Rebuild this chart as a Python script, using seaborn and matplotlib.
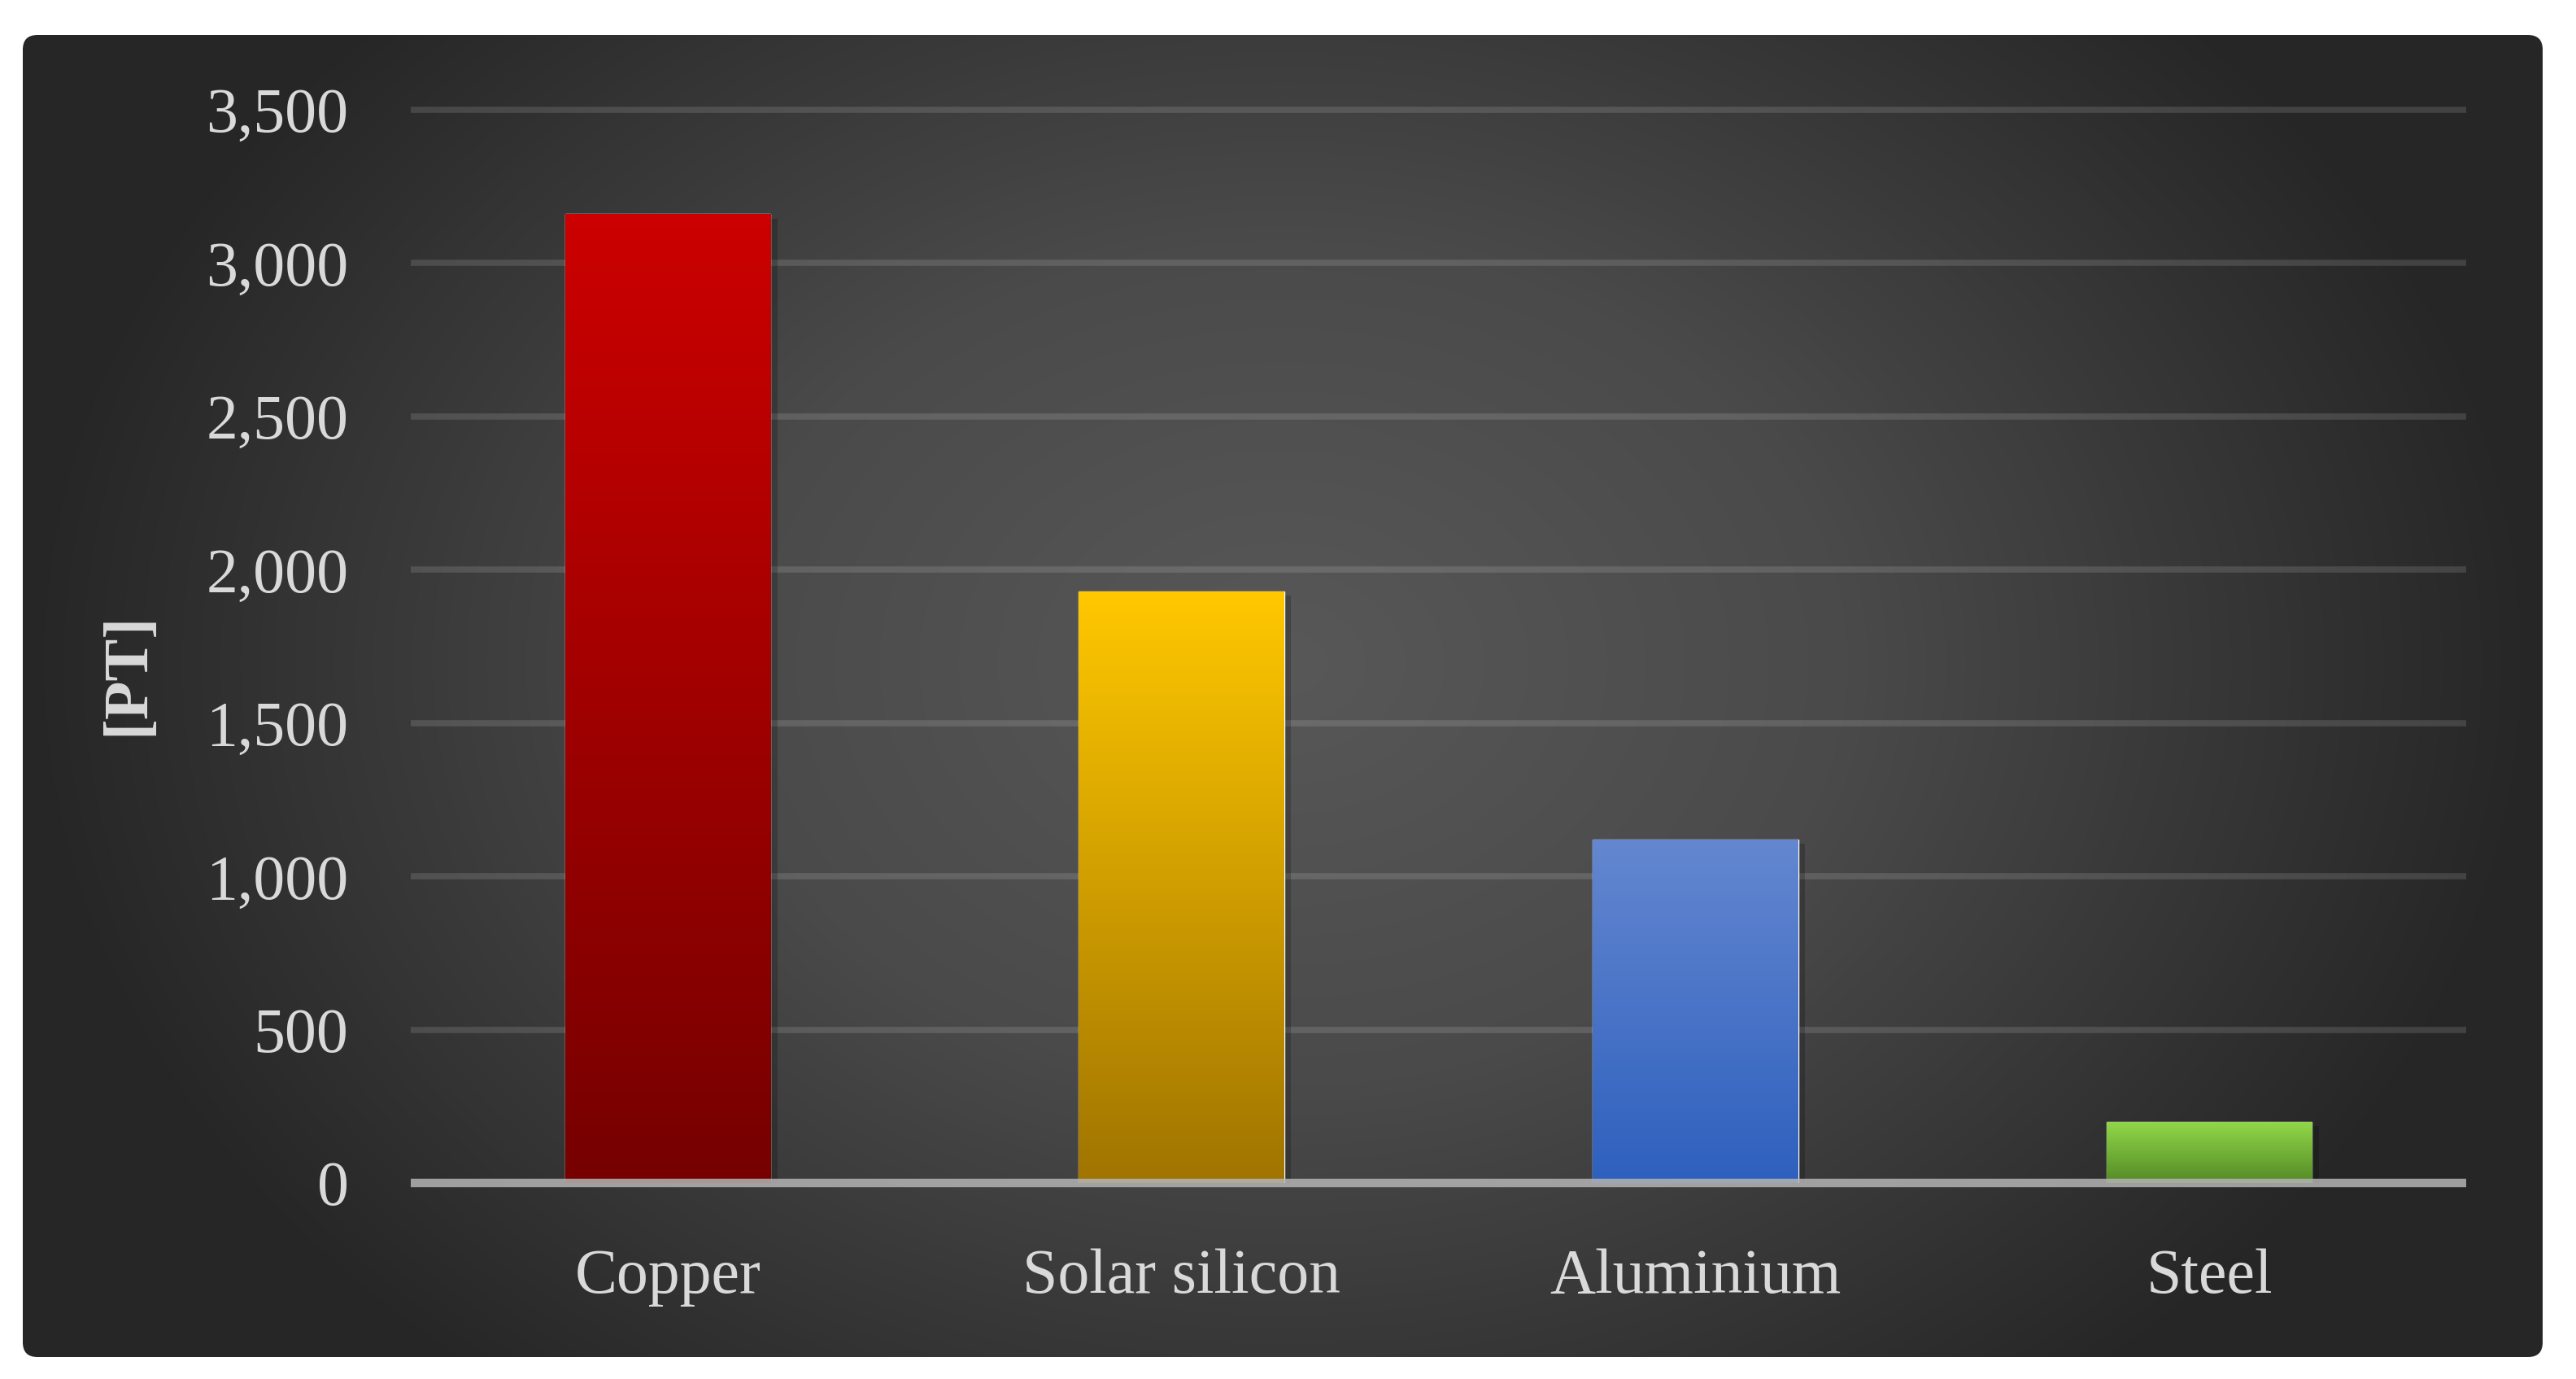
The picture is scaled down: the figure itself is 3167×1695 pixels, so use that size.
import numpy as np
import pandas as pd
import seaborn as sns
import matplotlib.pyplot as plt
from matplotlib.patches import FancyBboxPatch
from matplotlib.colors import LinearSegmentedColormap
from matplotlib.ticker import FuncFormatter
import matplotlib.patheffects as pe

# values
materials = ["Copper", "Solar silicon", "Aluminium", "Steel"]
amounts = [3160, 1930, 1120, 200]
top_colors = ["#cc0000", "#ffc800", "#6487d0", "#92d84a"]
bottom_colors = ["#760000", "#a07400", "#2e60be", "#548a26"]
y_ticks = [0, 500, 1000, 1500, 2000, 2500, 3000, 3500]
y_label = "[PT]"

sns.set_style("white")
plt.rcParams['font.family'] = ['Liberation Serif', 'DejaVu Serif']
text_col = "#d9d9d9"

W, H = 3167, 1695
fig = plt.figure(figsize=(W / 100, H / 100), dpi=100)
fig.patch.set_facecolor("white")

# dark panel with radial gradient
bg = fig.add_axes([0, 0, 1, 1], zorder=-10)
bg.set_xlim(0, W)
bg.set_ylim(H, 0)
bg.axis("off")
px0, px1, py0, py1 = 28, 3126, 43, 1668
xx, yy = np.meshgrid(np.linspace(px0, px1, 600), np.linspace(py0, py1, 330))
cx, cy = (px0 + px1) / 2, (py0 + py1) / 2 - 40
r = np.sqrt(((xx - cx) / ((px1 - px0) / 2)) ** 2 + ((yy - cy) / ((py1 - py0) / 1.4)) ** 2)
r = np.clip(r, 0, 1)
bg_cmap = LinearSegmentedColormap.from_list(
    "bg", [(0, "#585858"), (0.45, "#4a4a4a"), (0.8, "#333333"), (1, "#262626")])
im = bg.imshow(r, cmap=bg_cmap, vmin=0, vmax=1, extent=[px0, px1, py1, py0],
               aspect="auto", interpolation="bilinear")
panel = FancyBboxPatch((px0, py0), px1 - px0, py1 - py0,
                       boxstyle="round,pad=0,rounding_size=18",
                       transform=bg.transData, facecolor="none", edgecolor="none")
bg.add_patch(panel)
im.set_clip_path(panel)

# main chart
ax = fig.add_axes([505 / W, 1 - 1454 / H, (3032 - 505) / W, (1454 - 135) / H])
ax.patch.set_alpha(0)
df = pd.DataFrame({"material": materials, "amount": amounts})
sns.barplot(data=df, x="material", y="amount", hue="material",
            palette=top_colors, width=0.4, legend=False, ax=ax, zorder=3)

# vertical gradient on each bar, plus a soft shadow
for bar, ctop, cbot in zip(ax.patches, top_colors, bottom_colors):
    bar.set_path_effects([pe.SimplePatchShadow(offset=(6, -4), shadow_rgbFace="black", alpha=0.2),
                          pe.Normal()])
    x0, w, h = bar.get_x(), bar.get_width(), bar.get_height()
    cm = LinearSegmentedColormap.from_list("g", [cbot, ctop])
    grad = np.linspace(1, 0, 256).reshape(-1, 1)
    gi = ax.imshow(grad, cmap=cm, vmin=0, vmax=1, extent=[x0, x0 + w, 0, h],
                   aspect="auto", zorder=4, interpolation="bilinear")
    gi.set_clip_path(bar)
ax.set_aspect("auto")
ax.set_xlim(-0.5, 3.5)
ax.set_ylim(0, 3500)

for t in y_ticks[1:]:
    ax.axhline(t, color="white", alpha=0.13, lw=5.5, zorder=1, clip_on=False,
               solid_capstyle="butt")
ax.axhline(0, color="#b4b4b4", alpha=0.85, lw=7.5, zorder=6, clip_on=False,
           solid_capstyle="butt")

ax.set_yticks(y_ticks)
ax.yaxis.set_major_formatter(FuncFormatter(lambda v, p: f"{int(v):,}"))
ax.tick_params(axis="y", length=0, pad=55, labelsize=56, labelcolor=text_col)
ax.tick_params(axis="x", length=0, pad=58, labelsize=56, labelcolor=text_col)
ax.set_xlabel("")
ax.set_ylabel("")
sns.despine(ax=ax, left=True, bottom=True)
ax.grid(False)

fig.text(158 / W, 1 - 828 / H, y_label, rotation=90, ha="center", va="center",
         fontsize=56, fontweight="bold", color=text_col)

fig.savefig("out.png", dpi=100, facecolor="white")
